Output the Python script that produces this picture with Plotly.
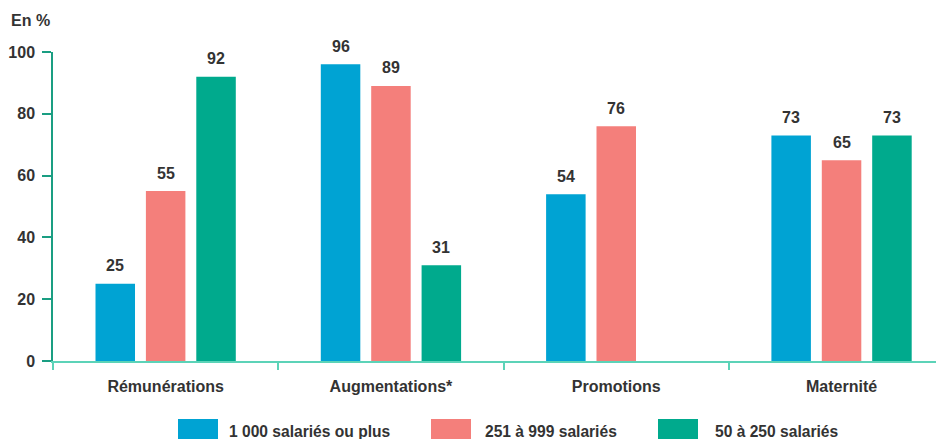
import plotly.graph_objects as go

categories = ["Rémunérations", "Augmentations*", "Promotions", "Maternité"]
series_names = ["1 000 salariés ou plus", "251 à 999 salariés", "50 à 250 salariés"]
values_1000 = [25, 96, 54, 73]
values_251 = [55, 89, 76, 65]
values_50 = [92, 31, None, 73]
y_ticks = [0, 20, 40, 60, 80, 100]

series_values = [values_1000, values_251, values_50]
colors = ["#00A3D3", "#F47F7B", "#00AA8D"]

FONT = "Liberation Sans, Arial, sans-serif"
TXT = "#333333"
FS = 16

# page body has an 8px margin; compensate so the picture lines up
OFF = 8
W, H = 944, 439
L, R, T, B = 45, 0, 44, 86
pw = W - L - R
ph = H - T - B
CAT_PX = 225.3


def px_x(x):
    return (x - OFF - L) / pw


def px_y(y):
    return (T + ph - (y - OFF)) / ph


fig = go.Figure()
for name, vals, col in zip(series_names, series_values, colors):
    fig.add_trace(go.Bar(x=categories, y=vals, name=name, marker_color=col,
                         marker_line_width=0, showlegend=False))

# value labels
bargap = 0.329
slot = CAT_PX * (1 - bargap) / 3
for i, vals in enumerate(series_values):
    for c, v in zip(categories, vals):
        if v is None:
            continue
        fig.add_annotation(x=c, y=v, text=f"<b>{v}</b>", showarrow=False,
                           xshift=(i - 1) * slot, yshift=18, yanchor="middle",
                           font=dict(family=FONT, size=FS, color=TXT))

# custom legend
sw_x = [178, 431, 658]
tx_x = [228, 484, 714]
for name, col, sx, tx in zip(series_names, colors, sw_x, tx_x):
    fig.add_shape(type="rect", xref="paper", yref="paper",
                  x0=px_x(sx), x1=px_x(sx + 40),
                  y0=px_y(450), y1=px_y(419), fillcolor=col, line_width=0)
    fig.add_annotation(xref="paper", yref="paper", x=px_x(tx - 1),
                       y=px_y(431), text=f"<b>{name}</b>",
                       showarrow=False, xanchor="left", yanchor="middle",
                       font=dict(family=FONT, size=15.6, color=TXT))

fig.add_annotation(xref="paper", yref="paper", x=px_x(9),
                   y=px_y(21), text="<b>En %</b>", showarrow=False,
                   xanchor="left", yanchor="middle",
                   font=dict(family=FONT, size=FS, color=TXT))

fig.update_layout(
    width=W, height=H,
    margin=dict(l=L, r=R, t=T, b=B, pad=0),
    paper_bgcolor="white", plot_bgcolor="white",
    barmode="group", bargap=bargap, bargroupgap=0.216,
    font=dict(family=FONT, size=FS, color=TXT),
    xaxis=dict(
        type="category", range=[-0.5, -0.5 + pw / CAT_PX], automargin=False,
        showline=True, linecolor="#5CD3B8", linewidth=2,
        ticks="outside", tickson="boundaries", ticklen=7, tickcolor="#5CD3B8",
        tickwidth=1.5, showgrid=False, zeroline=False,
        tickfont=dict(family=FONT, size=FS, color=TXT),
        ticklabelstandoff=10,
        tickvals=categories, ticktext=[f"<b>{c}</b>" for c in categories],
    ),
    yaxis=dict(
        range=[0, 100], tickvals=y_ticks, automargin=False,
        ticktext=[f"<b>{t}</b>" for t in y_ticks],
        showline=True, linecolor="#1A9E82", linewidth=1.5,
        ticks="outside", ticklen=9, tickcolor="#1A9E82", tickwidth=1.5,
        showgrid=False, zeroline=False,
        tickfont=dict(family=FONT, size=FS, color=TXT),
        ticklabelstandoff=4,
    ),
)

fig.write_html("out.html")
